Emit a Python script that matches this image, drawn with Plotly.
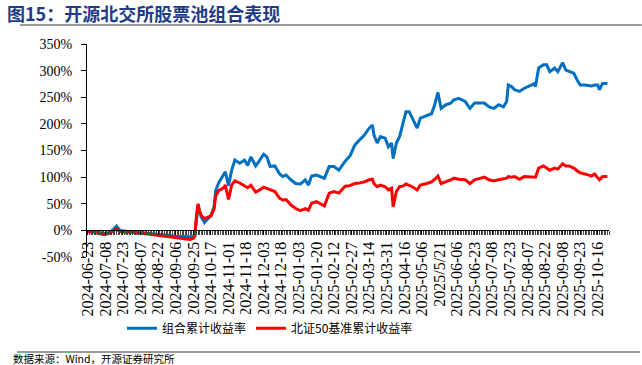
import plotly.graph_objects as go

# trading-day index (0 = 2024-06-24) for each sampled point
day_idx = [0, 5, 10, 13, 16, 18, 20, 24, 27, 30,
           35, 40, 45, 50, 55, 60, 64, 66, 67, 68,
           69, 70, 71, 73, 75, 77, 79, 80, 82, 85,
           86, 88, 90, 92, 95, 98, 100, 102, 105, 107,
           110, 112, 114, 117, 120, 122, 124, 127, 130, 133,
           136, 138, 140, 143, 146, 148, 151, 154, 157, 161,
           164, 167, 170, 173, 176, 178, 179, 181, 183, 186,
           188, 190, 191, 193, 195, 197, 199, 201, 203, 206,
           208, 212, 215, 217, 219, 221, 224, 227, 229, 232,
           236, 239, 242, 245, 248, 251, 254, 257, 260, 262,
           263, 265, 267, 270, 273, 276, 279, 280, 282, 285,
           287, 289, 292, 294, 297, 299, 301, 304, 306, 308,
           311, 315, 317, 319, 320, 322, 325]

# 组合累计收益率 (%)
portfolio = [-2, -3, -6, -5, 2, 8, 0, -2, -3, -4,
             -5, -6, -7, -9, -11, -12, -13, -12, -5, 25,
             45, 35, 25, 15, 22, 28, 45, 75, 90, 104,
             110, 84, 113, 132, 126, 132, 122, 138, 121, 129,
             143, 138, 120, 121, 106, 101, 104, 95, 88, 87,
             95, 85, 102, 104, 101, 98, 120, 120, 113, 130,
             140, 160, 170, 179, 192, 198, 179, 164, 176, 173,
             157, 164, 135, 164, 176, 198, 223, 223, 211, 192,
             211, 215, 219, 236, 259, 229, 236, 239, 245, 248,
             242, 229, 239, 239, 239, 232, 229, 236, 232, 242,
             273, 270, 264, 261, 267, 271, 275, 270, 305, 311,
             311, 298, 305, 298, 315, 301, 298, 295, 283, 273,
             273, 271, 273, 273, 264, 276, 276]

# 北证50基准累计收益率 (%)
benchmark = [-2, -4, -8, -6, -1, 3, -2, -4, -3, -5,
             -6, -8, -10, -12, -14, -15, -17, -15, -10, 30,
             50, 35, 28, 22, 25, 27, 40, 65, 75, 80,
             85, 58, 85, 93, 89, 83, 80, 85, 72, 75,
             81, 79, 76, 73, 60, 57, 58, 48, 41, 37,
             41, 38, 51, 54, 49, 46, 70, 73, 70, 83,
             84, 88, 89, 91, 95, 96, 88, 82, 85, 82,
             76, 79, 44, 73, 82, 83, 87, 85, 82, 76,
             85, 88, 91, 96, 102, 88, 91, 95, 98, 96,
             95, 88, 95, 98, 100, 95, 93, 95, 96, 98,
             101, 100, 101, 96, 101, 101, 101, 100, 117, 121,
             117, 113, 117, 115, 125, 121, 121, 117, 112, 108,
             106, 102, 106, 100, 95, 101, 101]

# x tick labels, one every 11 trading days
tick_labels = ["2024-06-23", "2024-07-08", "2024-07-23", "2024-08-07", "2024-08-22",
               "2024-09-06", "2024-09-25", "2024-10-17", "2024-11-01", "2024-11-18",
               "2024-12-03", "2024-12-18", "2025-01-03", "2025-01-20", "2025-02-12",
               "2025-02-27", "2025-03-14", "2025-03-31", "2025-04-16", "2025-05-06",
               "2025/5/21", "2025-06-06", "2025-06-23", "2025-07-08", "2025-07-23",
               "2025-08-07", "2025-08-22", "2025-09-08", "2025-09-23", "2025-10-16"]
tick_step = 11
y_ticks = [-50, 0, 50, 100, 150, 200, 250, 300, 350]

title_text = "图15：开源北交所股票池组合表现"
source_text = "数据来源：Wind，开源证券研究所"

SERIF = "Liberation Serif, Times New Roman, serif"
CJK = "Noto Sans CJK SC, sans-serif"

fig = go.Figure()
fig.add_trace(go.Scatter(x=day_idx, y=portfolio, mode="lines", name="组合累计收益率",
                         line=dict(color="#0070C0", width=3)))
fig.add_trace(go.Scatter(x=day_idx, y=benchmark, mode="lines", name="北证50基准累计收益率",
                         line=dict(color="#FF0000", width=3)))

fig.update_layout(
    width=642, height=365,
    margin=dict(l=87, r=33, t=44, b=108, autoexpand=False),
    paper_bgcolor="white", plot_bgcolor="white",
    showlegend=True,
    legend=dict(orientation="h", x=0.067, xanchor="left", y=-0.335, yanchor="middle",
                font=dict(family=CJK, size=12, color="#000"),
                itemwidth=30, tracegroupgap=0),
    xaxis=dict(
        range=[-0.5, 326],
        anchor="free", position=0.125,
        tickmode="array",
        tickvals=[i * tick_step for i in range(len(tick_labels))],
        ticktext=tick_labels,
        tickangle=-90,
        tickfont=dict(family=SERIF, size=16, color="#000"),
        ticks="outside", ticklen=4, tickcolor="#000", tickwidth=1,
        minor=dict(dtick=1, tick0=0, ticks="outside", ticklen=4, tickcolor="#444", tickwidth=1),
        showline=True, linecolor="#000", linewidth=1,
        showgrid=False, zeroline=False,
        automargin=False,
    ),
    yaxis=dict(
        range=[-50, 350],
        tickmode="array", tickvals=y_ticks,
        ticktext=[f"{v}%" for v in y_ticks],
        tickfont=dict(family=SERIF, size=14, color="#000"),
        ticks="outside", ticklen=5, tickcolor="#000",
        ticklabelstandoff=6,
        showline=True, linecolor="#000", linewidth=1,
        showgrid=False, zeroline=False,
        automargin=False,
    ),
)

fig.add_annotation(text="<b>" + title_text + "</b>", xref="paper", yref="paper",
                   x=-0.157, y=1.146, xanchor="left", yanchor="middle", showarrow=False,
                   font=dict(family=CJK, size=18, color="#1F3C88"))
fig.add_annotation(text=source_text, xref="paper", yref="paper",
                   x=-0.145, y=-0.477, xanchor="left", yanchor="middle", showarrow=False,
                   font=dict(family=CJK, size=10.5, color="#000"))
fig.add_shape(type="line", xref="paper", yref="paper", x0=-0.128, x1=1.063, y0=1.089, y1=1.089,
              line=dict(color="#999999", width=2))
fig.add_shape(type="line", xref="paper", yref="paper", x0=-0.134, x1=1.059, y0=-0.446, y1=-0.446,
              line=dict(color="#999999", width=2))

fig.write_html("out.html", config={"displayModeBar": False},
               post_script="document.body.style.margin='0';document.body.style.overflow='hidden';")
